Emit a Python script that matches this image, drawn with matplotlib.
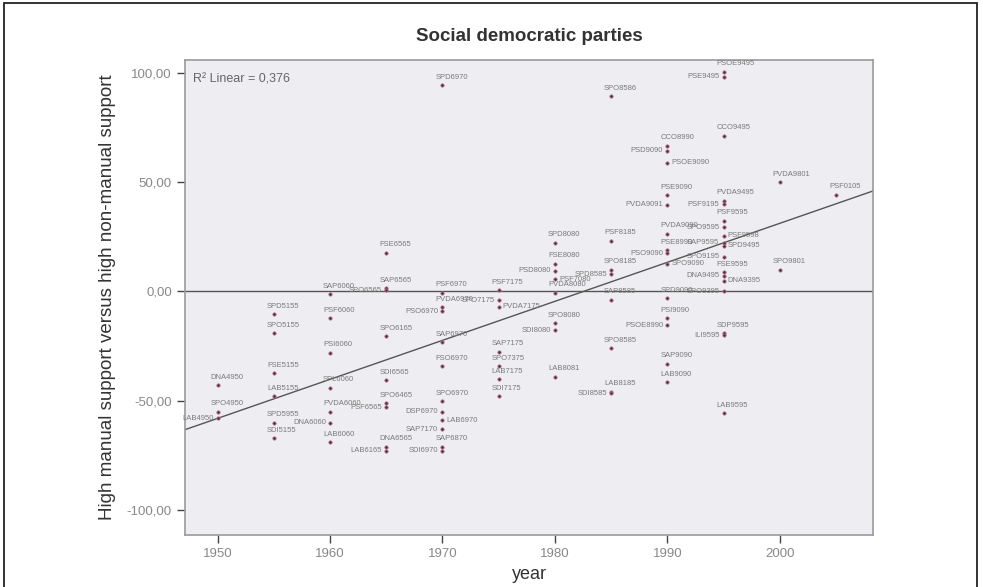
import numpy as np
import matplotlib
matplotlib.use("Agg")
from matplotlib import pyplot as plt
from matplotlib.patches import Rectangle

plt.rcParams['font.family'] = ['Liberation Sans', 'DejaVu Sans']

# election year, manual-minus-non-manual support, case label
years = [1950, 1950, 1950,
         1955, 1955, 1955, 1955, 1955, 1955,
         1960, 1960, 1960, 1960, 1960, 1960, 1960,
         1965, 1965, 1965, 1965, 1965, 1965, 1965, 1965, 1965,
         1970, 1970, 1970, 1970, 1970, 1970, 1970, 1970, 1970, 1970, 1970, 1970,
         1975, 1975, 1975, 1975, 1975, 1975, 1975,
         1980, 1980, 1980, 1980, 1980, 1980, 1980, 1980,
         1985, 1985, 1985, 1985, 1985, 1985, 1985, 1985,
         1990, 1990, 1990, 1990, 1990, 1990, 1990, 1990, 1990, 1990, 1990, 1990, 1990, 1990,
         1995, 1995, 1995, 1995, 1995, 1995, 1995, 1995, 1995, 1995, 1995, 1995, 1995, 1995, 1995,
         1995, 1995, 1995,
         2000, 2000,
         2005]
support = [-43, -55, -58,
           -10.5, -19, -37.5, -48, -60, -67,
           -1, -12, -28, -44, -55, -60, -69,
           17.8, 1.4, 0.5, -20.6, -40.7, -51, -53, -71, -73,
           94.5, -0.5, -7, -9, -23, -34, -50, -55, -59, -63, -71, -73,
           0.5, -4, -7, -27.5, -34, -40, -48,
           22.4, 12.8, 9.6, 5.5, -0.5, -14.6, -17.8, -39,
           89.5, 23.3, 10, 8, -3.7, -26, -45.8, -46.7,
           66.8, 64.5, 59, 44, 39.8, 26.5, 18.8, 17.4, 12.8, -3.2, -12, -15.5, -33, -41.6,
           100.7, 98.4, 71.4, 41.6, 40, 32.5, 29.3, 25.6, 22.4, 21, 16, 8.7, 7.3, 5, 0,
           -19, -20, -55.5,
           50, 10,
           44.4]
labels = ["DNA4950", "SPO4950", "LAB4950",
          "SPD5155", "SPO5155", "FSE5155", "LAB5155", "SPD5955", "SDI5155",
          "SAP6060", "PSF6060", "PSI6060", "SPL6060", "PVDA6060", "DNA6060", "LAB6060",
          "FSE6565", "SAP6565", "SPO6565", "SPO6165", "SDI6565", "SPO6465", "PSF6565", "DNA6565", "LAB6165",
          "SPD6970", "PSF6970", "PVDA6970", "PSO6970", "SAP6970", "FSO6970", "SPO6970", "DSP6970",
          "LAB6970", "SAP7170", "SAP6870", "SDI6970",
          "PSF7175", "SPO7175", "PVDA7175", "SAP7175", "SPO7375", "LAB7175", "SDI7175",
          "SPD8080", "FSE8080", "PSD8080", "PSF7080", "PVDA8080", "SPO8080", "SDI8080", "LAB8081",
          "SPO8586", "PSF8185", "SPO8185", "SPD8585", "SAP8585", "SPO8585", "LAB8185", "SDI8585",
          "CCO8990", "PSD9090", "PSOE9090", "PSE9090", "PVDA9091", "PVDA9090", "PSE8990", "PSO9090",
          "SPO9090", "SPD9090", "PSI9090", "PSOE8990", "SAP9090", "LAB9090",
          "PSOE9495", "PSE9495", "CCO9495", "PVDA9495", "PSF9195", "PSF9595", "SPO9595", "PSF9598",
          "SAP9595", "SPD9495", "SPO9195", "FSE9595", "DNA9495", "DNA9395", "SPO9395",
          "SDP9595", "ILI9595", "LAB9595",
          "PVDA9801", "SPO9801",
          "PSF0105"]

xticks = [1950, 1960, 1970, 1980, 1990, 2000]
yticks = [-100, -50, 0, 50, 100]

x = np.array(years, dtype=float)
y = np.array(support, dtype=float)

fig = plt.figure(figsize=(9.83, 5.87), dpi=100)
fig.patches.append(Rectangle((0.004, -0.05), 0.990, 1.045, transform=fig.transFigure,
                             fill=False, edgecolor="#222222", linewidth=1.3))

ax = fig.add_axes([0.1882, 0.0886, 0.700, 0.8092])
ax.set_facecolor("#eeeef2")
for s in ax.spines.values():
    s.set_color("#9a9a9a")
    s.set_linewidth(1.2)

ax.set_xlim(1947.1, 2008.3)
ax.set_ylim(-111.5, 106)

ax.axhline(0, color="#555555", linewidth=1.0, zorder=2)

# fit line
b, a = np.polyfit(x, y, 1)
r2 = np.corrcoef(x, y)[0, 1] ** 2
xl = np.array(ax.get_xlim())
ax.plot(xl, a + b * xl, color="#555555", linewidth=1.0, zorder=2)

ax.scatter(x, y, s=6, marker="o", color="#4a3c44", edgecolors="#c4708a",
           linewidths=0.5, zorder=3)

# point labels: above the point, or to the side alternately where points crowd
side = {}
for i in np.lexsort((-y, x)):
    prev = [j for j in side if x[j] == x[i] and abs(y[j] - y[i]) < 6]
    if not prev:
        side[i] = "up"
    else:
        side[i] = "left" if side[prev[-1]] != "left" else "right"
for i, lab in enumerate(labels):
    if side[i] == "up":
        kw = dict(xytext=(-5, 3), ha="left", va="bottom")
    elif side[i] == "left":
        kw = dict(xytext=(-3, 0), ha="right", va="center")
    else:
        kw = dict(xytext=(3, 0), ha="left", va="center")
    ax.annotate(lab, (x[i], y[i]), textcoords="offset points",
                fontsize=5.5, color="#7a7a7a", zorder=4, **kw)

ax.text(0.012, 0.972, "R\u00b2 Linear = %s" % ("%.3f" % r2).replace(".", ","),
        transform=ax.transAxes, fontsize=9, color="#666666", va="top")

ax.set_xticks(xticks)
ax.set_xticklabels([str(t) for t in xticks])
ax.set_yticks(yticks)
ax.set_yticklabels([("%.2f" % t).replace(".", ",") for t in yticks])
ax.tick_params(axis="both", labelsize=9.5, colors="#444444", length=6, width=1.0)
ax.tick_params(axis="both", labelcolor="#888888")

ax.set_xlabel("year", fontsize=13, color="#333333", labelpad=4)
ax.set_ylabel("High manual support versus high non-manual support", fontsize=13.5,
              color="#333333", labelpad=8)
ax.set_title("Social democratic parties", fontsize=13.5, fontweight="bold",
             color="#333333", pad=14)

fig.savefig("out.png", dpi=100)
